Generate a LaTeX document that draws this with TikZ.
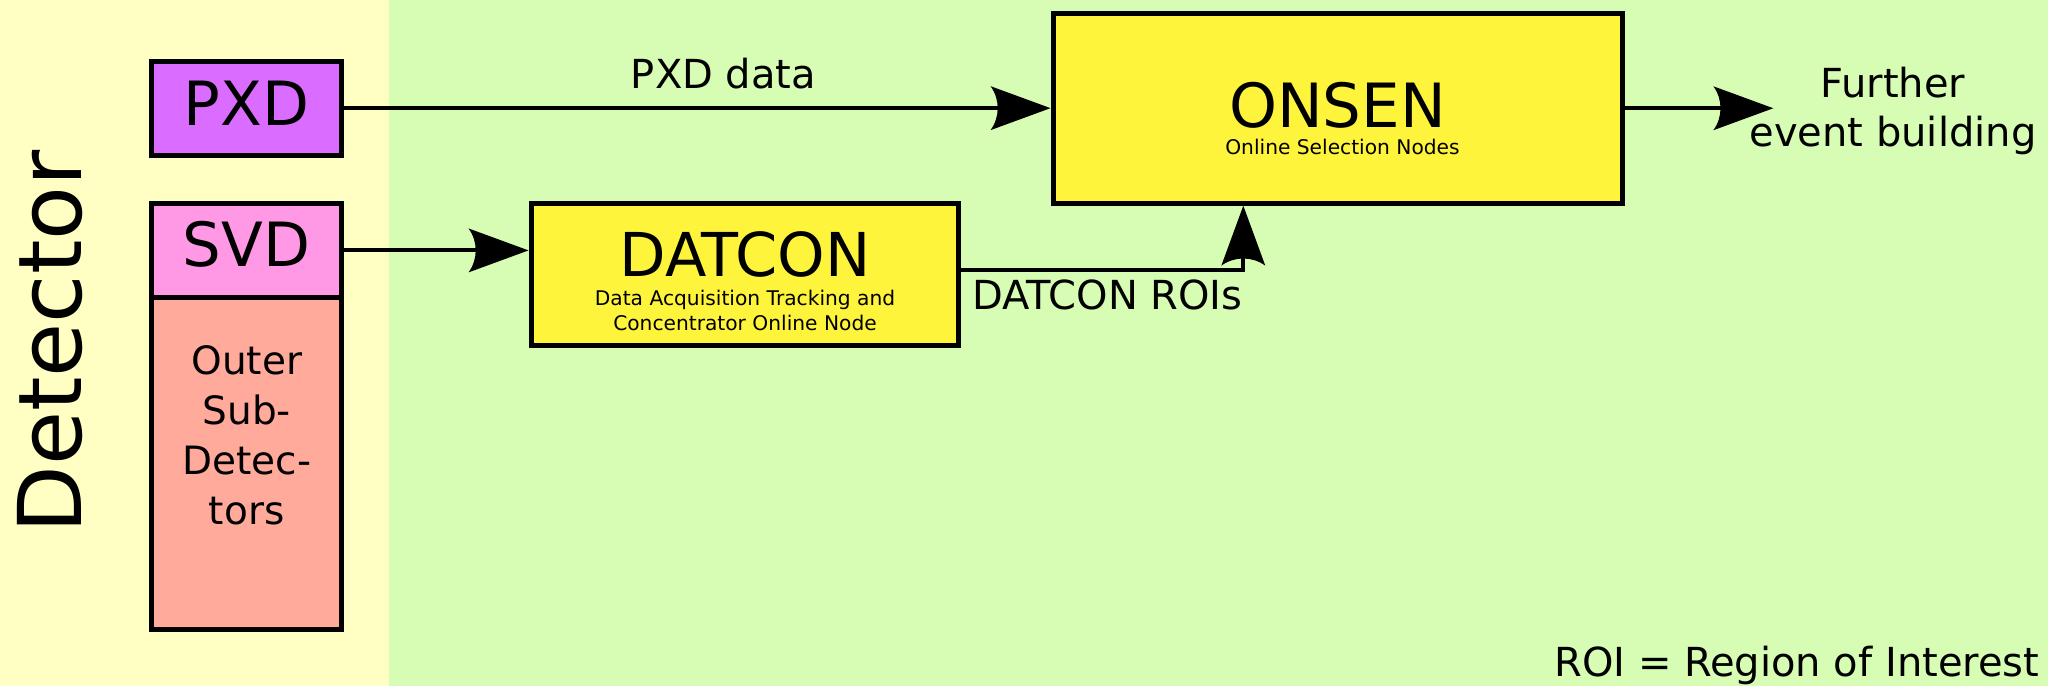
\documentclass[tikz,border=0pt]{standalone}
\usepackage{fontspec}
\setmainfont{DejaVu Sans}
\usetikzlibrary{arrows.meta}

\definecolor{bandyellow}{HTML}{FFFFC4}
\definecolor{bandgreen}{HTML}{D7FDB4}
\definecolor{pxdviolet}{HTML}{DA6CFF}
\definecolor{svdpink}{HTML}{FF99E6}
\definecolor{outersalmon}{HTML}{FFAA9A}
\definecolor{nodeyellow}{HTML}{FFF43C}

% swept-back arrow head with a curved back
\pgfdeclarearrow{
  name = Swept,
  parameters = {\the\pgfarrowlength,\the\pgfarrowwidth},
  setup code = {
    \pgfarrowssettipend{0pt}
    \pgfarrowssetlineend{-.85\pgfarrowlength}
    \pgfarrowssetbackend{-\pgfarrowlength}
    \pgfarrowssavethe\pgfarrowlength
    \pgfarrowssavethe\pgfarrowwidth
  },
  drawing code = {
    \pgfpathmoveto{\pgfpointorigin}
    \pgfpathlineto{\pgfpoint{-\pgfarrowlength}{.5\pgfarrowwidth}}
    \pgfpathcurveto{\pgfpoint{-.84\pgfarrowlength}{.2034\pgfarrowwidth}}
                   {\pgfpoint{-.84\pgfarrowlength}{-.2034\pgfarrowwidth}}
                   {\pgfpoint{-\pgfarrowlength}{-.5\pgfarrowwidth}}
    \pgfpathclose
    \pgfusepathqfill
  },
  defaults = {length = 60pt, width = 44pt}
}

\tikzset{
  block/.style={draw=black, line width=5pt, rectangle, inner sep=0pt, outer sep=2.5pt},
  conn/.style={draw=black, line width=4pt, -{Swept}},
  title/.style={anchor=base, inner sep=0pt, font=\fontsize{61}{72}\selectfont},
  subtitle/.style={anchor=base, inner sep=0pt, font=\fontsize{20.2}{25}\selectfont},
  label/.style={inner sep=0pt, font=\fontsize{40}{49}\selectfont},
}

\begin{document}
\begin{tikzpicture}[x=1pt, y=-1pt]
  \useasboundingbox (0,0) rectangle (2048,686);
  % background bands
  \fill[bandyellow] (0,0) rectangle (389.3,686);
  \fill[bandgreen] (389.3,0) rectangle (2048,686);

  % detector side
  \node[rotate=90, anchor=base, inner sep=0pt, font=\fontsize{88}{100}\selectfont]
    (detector) at (81.7,342) {Detector};

  \node[block, fill=pxdviolet, minimum width=190pt, minimum height=94.3pt]
    (pxd) at (246.7,108.15) {};
  \node[block, fill=outersalmon, minimum width=190pt, minimum height=332.1pt]
    (outer) at (246.7,463.45) {};
  \node[block, fill=svdpink, minimum width=190pt, minimum height=94pt]
    (svd) at (246.7,250.4) {};

  \node[title] (pxdtext) at (246.7,125) {PXD};
  \node[title] (svdtext) at (246.7,266.7) {SVD};
  \node[anchor=base, inner sep=0pt, font=\fontsize{39}{50}\selectfont]
    (outertext) at (246.7,374)
    {\begin{tabular}[t]{@{}c@{}}Outer\\Sub-\\Detec-\\tors\end{tabular}};

  % processing nodes
  \node[block, fill=nodeyellow, minimum width=427.5pt, minimum height=141.8pt]
    (datcon) at (744.75,274.3) {};
  \node[title, font=\fontsize{60.5}{72}\selectfont] (datcontext) at (745,276.7) {DATCON};
  \node[subtitle] (datconsub) at (745,305.7)
    {\begin{tabular}[t]{@{}c@{}}Data Acquisition Tracking and\\Concentrator Online Node\end{tabular}};

  \node[block, fill=nodeyellow, minimum width=569.7pt, minimum height=189.9pt]
    (onsen) at (1337.85,108.25) {};
  \node[title] (onsentext) at (1337.5,127.3) {ONSEN};
  \node[subtitle] (onsensub) at (1342.5,154) {Online Selection Nodes};

  % data flow
  \draw[conn] (pxd.east) -- (pxd.east -| onsen.west);
  \draw[conn] (svd.east) -- (svd.east -| datcon.west);
  \coordinate (roibend) at (1243.3,269.5);
  \draw[conn] (roibend -| datcon.east) -- (roibend) -- (roibend |- onsen.south);
  \coordinate (furthertip) at (1773.3,108.25);
  \draw[conn] (onsen.east) -- (onsen.east -| furthertip);

  % labels
  \node[label, anchor=base west] (pxdlabel) at (630.7,88.3) {PXD data};
  \node[label, anchor=base west] (roilabel) at (972,309.3) {DATCON ROIs};
  \node[label, anchor=base] (further) at (1893,97.7)
    {\begin{tabular}[t]{@{}c@{}}Further\\event building\end{tabular}};
  \node[label, anchor=base east] (legend) at (2039.5,676.7) {ROI = Region of Interest};
\end{tikzpicture}
\end{document}
